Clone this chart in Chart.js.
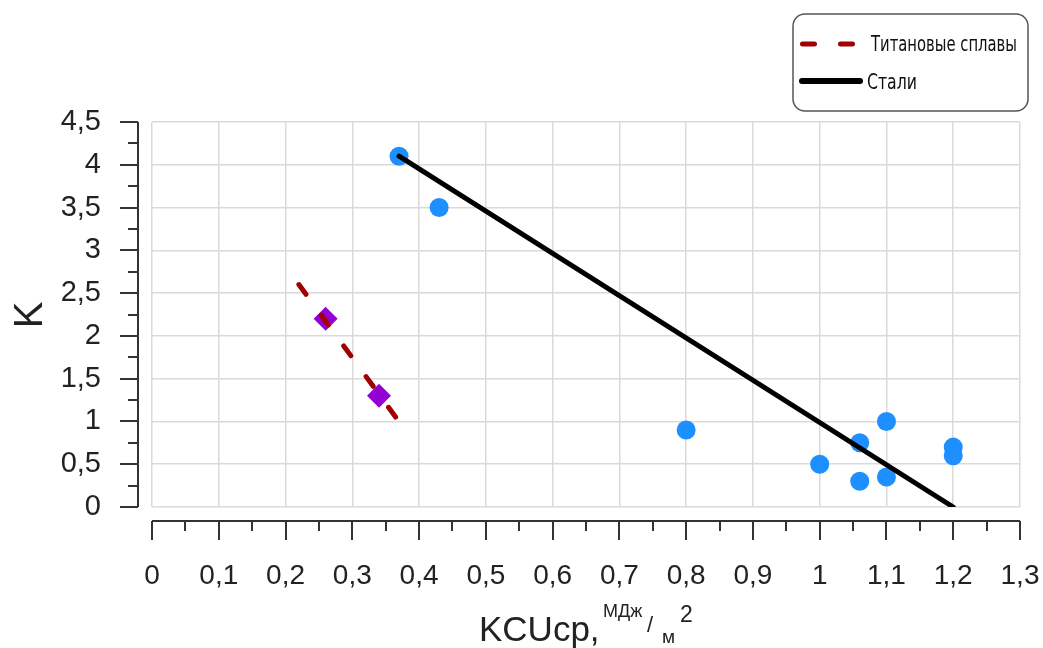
<!DOCTYPE html>
<html><head><meta charset="utf-8">
<script src="https://cdn.jsdelivr.net/npm/chart.js@4"></script>
<style>html,body{margin:0;padding:0;background:#fff;} #wrap{width:1043px;height:648px;position:relative;}</style>
</head><body><div id="wrap"><canvas id="c" width="1043" height="648"></canvas></div>
<script>
// ---- data ----
const steelX = [0.37, 0.43, 0.80, 1.00, 1.06, 1.06, 1.10, 1.10, 1.20, 1.20];
const steelY = [4.1, 3.5, 0.9, 0.5, 0.75, 0.3, 1.0, 0.35, 0.7, 0.6];
const titanX = [0.26, 0.34];
const titanY = [2.2, 1.3];
const steelTrendX = [0.37, 1.2];
const steelTrendY = [4.1, 0];
const titanTrendX = [0.22, 0.365];
const titanTrendY = [2.6, 1.05];
const xTickValues = [0, 0.1, 0.2, 0.3, 0.4, 0.5, 0.6, 0.7, 0.8, 0.9, 1.0, 1.1, 1.2, 1.3];
const xTickLabels = ['0', '0,1', '0,2', '0,3', '0,4', '0,5', '0,6', '0,7', '0,8', '0,9', '1', '1,1', '1,2', '1,3'];
const yTickValues = [0, 0.5, 1, 1.5, 2, 2.5, 3, 3.5, 4, 4.5];
const yTickLabels = ['0', '0,5', '1', '1,5', '2', '2,5', '3', '3,5', '4', '4,5'];
const seriesNames = ['Титановые сплавы', 'Стали'];
const xTitleMain = 'KCUср,';
const xTitleUnitNum = 'МДж';
const xTitleUnitDen = 'м';
const xTitleUnitExp = '2';
const yTitle = 'K';

const pts = (xs, ys) => xs.map((x, i) => ({x: x, y: ys[i]}));
const FONT = '"Liberation Sans", Arial, sans-serif';
const AXIS = '#333333';
const TITAN_RED = '#a00000';

const decor = {
  id: 'decor',
  afterDraw(chart) {
    const ctx = chart.ctx;
    const xs = chart.scales.x, ys = chart.scales.y;
    const ca = chart.chartArea;
    ctx.save();
    ctx.strokeStyle = AXIS;
    ctx.lineWidth = 2;
    // y axis
    const ax = ca.left - 14;
    ctx.beginPath();
    ctx.moveTo(ax, ys.getPixelForValue(yTickValues[yTickValues.length - 1]));
    ctx.lineTo(ax, ys.getPixelForValue(yTickValues[0]));
    ctx.stroke();
    yTickValues.forEach((v, i) => {
      const p = Math.round(ys.getPixelForValue(v));
      ctx.beginPath(); ctx.moveTo(ax - 18, p); ctx.lineTo(ax, p); ctx.stroke();
      if (i < yTickValues.length - 1) {
        const m = Math.round(ys.getPixelForValue((v + yTickValues[i + 1]) / 2));
        ctx.beginPath(); ctx.moveTo(ax - 10, m); ctx.lineTo(ax, m); ctx.stroke();
      }
    });
    // x axis
    const ay = ca.bottom + 14;
    ctx.beginPath();
    ctx.moveTo(xs.getPixelForValue(xTickValues[0]), ay);
    ctx.lineTo(xs.getPixelForValue(xTickValues[xTickValues.length - 1]), ay);
    ctx.stroke();
    xTickValues.forEach((v, i) => {
      const p = Math.round(xs.getPixelForValue(v));
      ctx.beginPath(); ctx.moveTo(p, ay); ctx.lineTo(p, ay + 19); ctx.stroke();
      if (i < xTickValues.length - 1) {
        const m = Math.round(xs.getPixelForValue((v + xTickValues[i + 1]) / 2));
        ctx.beginPath(); ctx.moveTo(m, ay); ctx.lineTo(m, ay + 10); ctx.stroke();
      }
    });
    // y title
    ctx.fillStyle = '#222';
    ctx.save();
    ctx.translate(42, 315);
    ctx.rotate(-Math.PI / 2);
    ctx.font = '40px ' + FONT;
    ctx.textAlign = 'center';
    ctx.textBaseline = 'alphabetic';
    ctx.fillText(yTitle, 0, 0);
    ctx.restore();
    // x title
    ctx.textAlign = 'left';
    ctx.textBaseline = 'alphabetic';
    ctx.font = '35px ' + FONT;
    ctx.fillText(xTitleMain, 479, 641);
    ctx.font = '18px ' + FONT;
    ctx.fillText(xTitleUnitNum, 603, 617);
    ctx.font = '22px ' + FONT;
    ctx.fillText('/', 647, 632);
    ctx.font = '19px ' + FONT;
    ctx.fillText(xTitleUnitDen, 662, 643);
    ctx.font = '23px ' + FONT;
    ctx.fillText(xTitleUnitExp, 680, 622);
    // legend box
    const bx = 793, by = 14, bw = 235, bh = 97, r = 12;
    ctx.strokeStyle = '#555';
    ctx.lineWidth = 1.5;
    ctx.beginPath();
    ctx.roundRect(bx, by, bw, bh, r);
    ctx.stroke();
    // legend entries
    const legFont = '22px "Liberation Sans Narrow", "DejaVu Sans Condensed", Roboto, sans-serif';
    const drawLegText = (txt, x, y, targetW) => {
      ctx.font = legFont;
      ctx.fillStyle = '#111';
      ctx.textBaseline = 'middle';
      const w = ctx.measureText(txt).width;
      const sx = targetW / w;
      ctx.save();
      ctx.translate(x, y);
      ctx.scale(sx, 1);
      ctx.fillText(txt, 0, 0);
      ctx.restore();
    };
    ctx.lineCap = 'round';
    ctx.strokeStyle = TITAN_RED;
    ctx.lineWidth = 5;
    ctx.setLineDash([12, 26]);
    ctx.beginPath(); ctx.moveTo(802.5, 44); ctx.lineTo(853, 44); ctx.stroke();
    ctx.setLineDash([]);
    drawLegText(seriesNames[0], 871, 45, 146);
    ctx.strokeStyle = '#000';
    ctx.lineWidth = 6;
    ctx.beginPath(); ctx.moveTo(802, 81); ctx.lineTo(860, 81); ctx.stroke();
    drawLegText(seriesNames[1], 867, 83, 50);
    ctx.restore();
  }
};

new Chart(document.getElementById('c'), {
  type: 'scatter',
  data: {
    datasets: [
      {
        label: seriesNames[0] + ' trend', type: 'line', data: pts(titanTrendX, titanTrendY),
        borderColor: TITAN_RED, borderWidth: 5, borderDash: [12, 26], borderCapStyle: 'round',
        pointRadius: 0, fill: false, order: 0
      },
      {
        label: seriesNames[1] + ' trend', type: 'line', data: pts(steelTrendX, steelTrendY),
        borderColor: '#000', borderWidth: 5, borderCapStyle: 'round',
        pointRadius: 0, fill: false, order: 0
      },
      {
        label: seriesNames[0], data: pts(titanX, titanY), pointStyle: 'rectRot',
        pointRadius: 12, backgroundColor: '#9400d3', borderColor: '#9400d3', borderWidth: 0, order: 1
      },
      {
        label: seriesNames[1], data: pts(steelX, steelY), pointStyle: 'circle',
        pointRadius: 9.5, backgroundColor: '#1e8fff', borderColor: '#1e8fff', borderWidth: 0, order: 1
      }
    ]
  },
  options: {
    responsive: false,
    animation: false,
    layout: {padding: {top: 122, right: 23, left: 0, bottom: 0}},
    plugins: {legend: {display: false}, tooltip: {enabled: false}},
    scales: {
      x: {
        type: 'linear', min: 0, max: 1.3,
        afterBuildTicks: s => { s.ticks = xTickValues.map(v => ({value: v})); },
        afterFit: s => { s.height = 141; },
        ticks: {
          callback: (v, i) => xTickLabels[i], autoSkip: false, maxRotation: 0,
          font: {family: FONT, size: 28}, color: '#222', padding: 0
        },
        grid: {color: '#dadada', lineWidth: 1.5, drawTicks: true, tickLength: 52, tickColor: 'rgba(0,0,0,0)'},
        border: {display: false}
      },
      y: {
        type: 'linear', min: 0, max: 4.5,
        afterBuildTicks: s => { s.ticks = yTickValues.map(v => ({value: v})); },
        afterFit: s => { s.width = 152; },
        ticks: {
          callback: (v, i) => yTickLabels[i], autoSkip: false,
          font: {family: FONT, size: 29}, color: '#222', padding: 51
        },
        grid: {color: '#dadada', lineWidth: 1.5, drawTicks: false},
        border: {display: false}
      }
    }
  },
  plugins: [decor]
});
</script></body></html>
